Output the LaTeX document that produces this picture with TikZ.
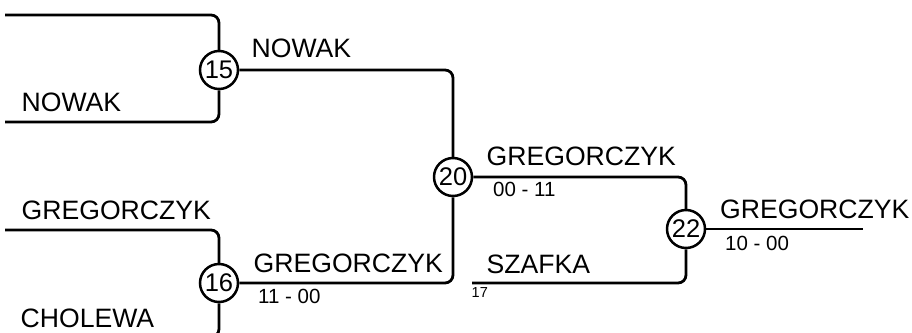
\documentclass[tikz,border=0pt]{standalone}
\usepackage{fontspec}
\setmainfont{Liberation Sans}
\begin{document}
\begin{tikzpicture}[x=1pt,y=-1pt,
  wire/.style={line width=2.8pt, rounded corners=8pt},
  game/.style={circle, draw, line width=2.5pt, minimum size=38pt, inner sep=0pt, font=\fontsize{25.5}{25}\selectfont},
  plname/.style={anchor=base west, inner sep=0pt, font=\fontsize{26.6}{27}\selectfont},
  plscore/.style={anchor=base west, inner sep=0pt, font=\fontsize{20.5}{20}\selectfont},
  plsmall/.style={anchor=base west, inner sep=0pt, font=\fontsize{14.5}{15}\selectfont}]
\useasboundingbox (0,0) rectangle (912,332);
\clip (0,0) rectangle (912,332);
% game nodes
\node[game] (c15) at (219,70) {15};
\node[game] (c16) at (219,283) {16};
\node[game] (c20) at (453,177) {20};
\node[game] (c22) at (686,229) {22};
% free ends
\coordinate (a1) at (5,15);
\coordinate (a2) at (5,122);
\coordinate (b1) at (5,230);
\coordinate (b2) at (5,337);
\coordinate (s17) at (472,283);
\coordinate (fin) at (863,229);
% connectors
\draw[wire] (a1) -| (c15.north);
\draw[wire] (a2) -| (c15.south);
\draw[wire] (b1) -| (c16.north);
\draw[wire] (b2) -| (c16.south);
\draw[wire] (c15.east) -| (c20.north);
\draw[wire] (c16.east) -| (c20.south);
\draw[wire] (c20.east) -| (c22.north);
\draw[wire] (s17) -| (c22.south);
\draw[wire] (c22.east) -- (fin);
% labels
\node[plname] (t1) at (251.5,57) {NOWAK};
\node[plname] (t2) at (21.5,111) {NOWAK};
\node[plname] (t3) at (21.5,219) {GREGORCZYK};
\node[plname] (t4) at (20.5,327) {CHOLEWA};
\node[plname] (t5) at (253.5,272) {GREGORCZYK};
\node[plscore] (s1) at (258,303) {11 - 00};
\node[plname] (t6) at (486.5,165) {GREGORCZYK};
\node[plscore] (s2) at (493,196) {00 - 11};
\node[plname] (t7) at (720,218) {GREGORCZYK};
\node[plscore] (s3) at (725,250) {10 - 00};
\node[plname] (t8) at (486.5,273) {SZAFKA};
\node[plsmall] (n17) at (471.5,297) {17};
\end{tikzpicture}
\end{document}
